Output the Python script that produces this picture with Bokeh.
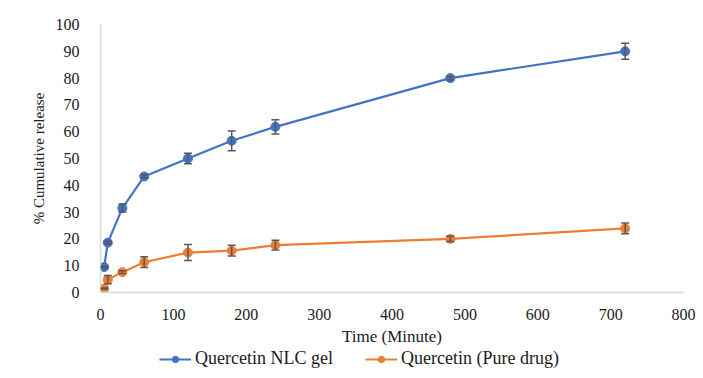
from bokeh.plotting import figure
from bokeh.layouts import column
from bokeh.models import ColumnDataSource, Whisker, TeeHead, Legend, LegendItem, FixedTicker, Range1d
from bokeh.embed import file_html
from bokeh.resources import INLINE

time_min = [5, 10, 30, 60, 120, 180, 240, 480, 720]
nlc_gel = [9.5, 18.6, 31.5, 43.3, 50.0, 56.6, 61.8, 80.0, 90.0]
nlc_err = [0.3, 0.5, 1.5, 0.6, 2.0, 3.7, 2.7, 0.7, 3.0]
pure_drug = [1.5, 4.8, 7.6, 11.3, 14.9, 15.6, 17.7, 20.0, 23.9]
pure_err = [0.2, 1.5, 0.5, 2.0, 3.0, 2.0, 1.8, 1.0, 2.0]
x_ticks = [0, 100, 200, 300, 400, 500, 600, 700, 800]
y_ticks = [0, 10, 20, 30, 40, 50, 60, 70, 80, 90, 100]
series_labels = ["Quercetin NLC gel", "Quercetin (Pure drug)"]

BLUE = "#4472C4"
ORANGE = "#ED7D31"
FONT = "Liberation Serif"

p = figure(width=700, height=348, output_backend="svg", toolbar_location=None,
           x_range=Range1d(0, 800), y_range=Range1d(0, 100),
           min_border_left=100, min_border_right=17, min_border_top=24, min_border_bottom=55)
p.xgrid.visible = False
p.ygrid.visible = False
p.outline_line_color = None

p.axis.axis_line_color = "#d9d9d9"
p.axis.axis_line_width = 1.5
p.axis.major_tick_line_color = None
p.axis.minor_tick_line_color = None
p.axis.major_label_text_font = FONT
p.axis.major_label_text_font_size = "16px"
p.axis.major_label_text_color = "#1a1a1a"
p.axis.axis_label_text_font = FONT
p.axis.axis_label_text_font_style = "normal"
p.axis.axis_label_text_color = "#1a1a1a"

p.xaxis.ticker = FixedTicker(ticks=x_ticks)
p.yaxis.ticker = FixedTicker(ticks=y_ticks)
p.xaxis.axis_label = "Time (Minute)"
p.yaxis.axis_label = "% Cumulative release"
p.xaxis.axis_label_text_font_size = "17px"
p.yaxis.axis_label_text_font_size = "15px"
p.xaxis.major_label_standoff = 10
p.yaxis.major_label_standoff = 15
p.xaxis.axis_label_standoff = 4
p.yaxis.axis_label_standoff = 6

src1 = ColumnDataSource(dict(x=time_min, y=nlc_gel,
                             lo=[a - b for a, b in zip(nlc_gel, nlc_err)],
                             hi=[a + b for a, b in zip(nlc_gel, nlc_err)]))
src2 = ColumnDataSource(dict(x=time_min, y=pure_drug,
                             lo=[a - b for a, b in zip(pure_drug, pure_err)],
                             hi=[a + b for a, b in zip(pure_drug, pure_err)]))

for src, color in ((src1, BLUE), (src2, ORANGE)):
    p.line("x", "y", source=src, line_color=color, line_width=2.2)
    w = Whisker(source=src, base="x", lower="lo", upper="hi", dimension="height",
                line_color="#595959", line_width=1.5,
                upper_head=TeeHead(size=8, line_color="#595959", line_width=1.5),
                lower_head=TeeHead(size=8, line_color="#595959", line_width=1.5),
                level="overlay")
    p.add_layout(w)
    p.scatter("x", "y", source=src, size=9, marker="circle", fill_color=color, line_color=color)

# legend strip below the chart (series drawn out of view, only their legend glyphs show)
p2 = figure(width=700, height=28, output_backend="svg", toolbar_location=None,
            x_range=Range1d(0, 800), y_range=Range1d(1000, 1001),
            x_axis_location=None, y_axis_location=None,
            min_border_left=0, min_border_right=0, min_border_top=0, min_border_bottom=0)
p2.xgrid.visible = False
p2.ygrid.visible = False
p2.outline_line_color = None

items = []
for src, color, label in ((src1, BLUE, series_labels[0]), (src2, ORANGE, series_labels[1])):
    ln = p2.line("x", "y", source=src, line_color=color, line_width=2.2)
    sc = p2.scatter("x", "y", source=src, size=8, marker="circle", fill_color=color, line_color=color)
    items.append(LegendItem(label=label, renderers=[ln, sc]))

legend = Legend(items=items, orientation="horizontal", location=(59, 7),
                label_text_font=FONT, label_text_font_size="18px", label_text_color="#1a1a1a",
                glyph_width=32, glyph_height=16, label_standoff=4, spacing=32,
                padding=0, margin=0,
                border_line_color=None, background_fill_alpha=0)
p2.add_layout(legend, "center")

open("out.html", "w").write(file_html(column(p, p2), INLINE))
